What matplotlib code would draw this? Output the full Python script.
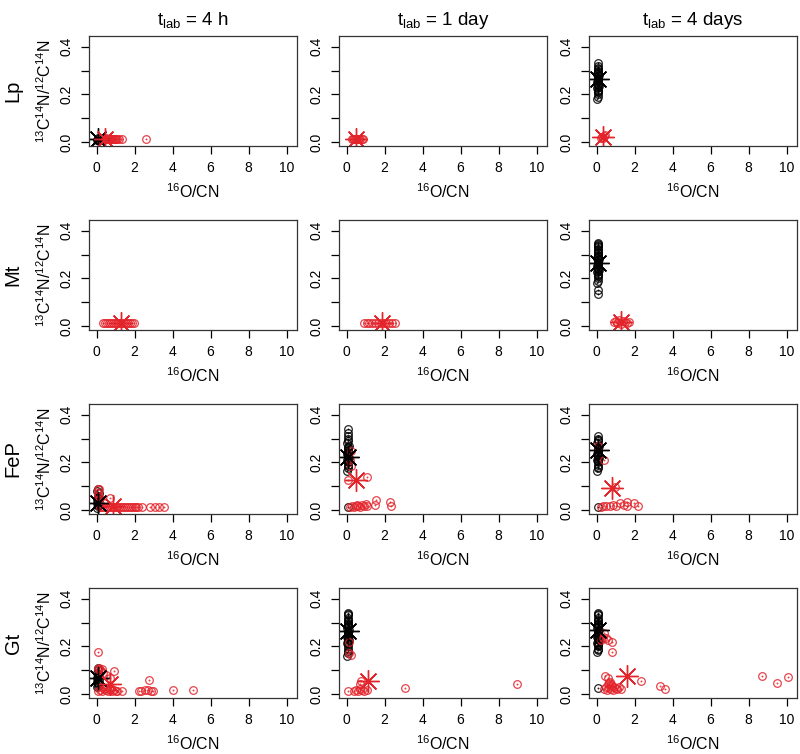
import matplotlib
matplotlib.use("Agg")
import matplotlib.pyplot as plt

plt.rcParams['font.family'] = ['Liberation Sans', 'DejaVu Sans']
plt.rcParams['mathtext.fontset'] = 'custom'
plt.rcParams['mathtext.rm'] = 'Liberation Sans'
plt.rcParams['mathtext.it'] = 'Liberation Sans:italic'

RED = '#e3242b'

time_labels = ['4 h', '1 day', '4 days']
minerals = ['Lp', 'Mt', 'FeP', 'Gt']

# shared y values for the black (13C14N-rich) clusters
cluster_y_a = [0.18, 0.19, 0.20, 0.21, 0.215, 0.22, 0.225, 0.23, 0.235, 0.24, 0.245, 0.25, 0.255,
               0.26, 0.265, 0.27, 0.275, 0.28, 0.285, 0.29, 0.295, 0.30, 0.305, 0.31, 0.32, 0.33]
cluster_x_a = [0.04, 0.08, 0.06, 0.10, 0.05, 0.09, 0.03, 0.07, 0.11, 0.05, 0.08, 0.04, 0.10,
               0.06, 0.09, 0.05, 0.07, 0.11, 0.04, 0.08, 0.06, 0.10, 0.05, 0.07, 0.06, 0.08]

# --- Lp ---
lp_4h_bx = [0.03, 0.05, 0.06, 0.08, 0.10]
lp_4h_by = [0.010, 0.012, 0.008, 0.015, 0.010]
lp_4h_bm = (0.08, 0.011)
lp_4h_rx = [0.2, 0.25, 0.3, 0.35, 0.4, 0.45, 0.5, 0.55, 0.6, 0.65, 0.7, 0.75, 0.8, 0.85, 0.9,
            0.95, 1.0, 1.1, 1.2, 1.32, 2.6]
lp_4h_ry = [0.012, 0.014, 0.012, 0.010, 0.013, 0.012, 0.015, 0.012, 0.011, 0.013, 0.012, 0.012,
            0.014, 0.012, 0.011, 0.012, 0.013, 0.012, 0.012, 0.012, 0.013]
lp_4h_rm = (0.45, 0.012)

lp_1d_bx, lp_1d_by, lp_1d_bm = [], [], None
lp_1d_rx = [0.3, 0.35, 0.4, 0.45, 0.5, 0.55, 0.6, 0.65, 0.7, 0.8, 0.88]
lp_1d_ry = [0.012, 0.013, 0.011, 0.012, 0.014, 0.012, 0.013, 0.011, 0.012, 0.012, 0.013]
lp_1d_rm = (0.5, 0.013)

lp_4d_bx = cluster_x_a
lp_4d_by = cluster_y_a
lp_4d_bm = (0.10, 0.265)
lp_4d_rx = [0.30, 0.40, 0.35, 0.45, 0.25]
lp_4d_ry = [0.020, 0.025, 0.015, 0.030, 0.018]
lp_4d_rm = (0.35, 0.022)

# --- Mt ---
mt_4h_bx, mt_4h_by, mt_4h_bm = [], [], None
mt_4h_rx = [0.35, 0.45, 0.55, 0.65, 0.75, 0.85, 0.95, 1.05, 1.15, 1.25, 1.35, 1.45, 1.55,
            1.65, 1.75, 1.85, 1.95]
mt_4h_ry = [0.012] * 17
mt_4h_rm = (1.3, 0.013)

mt_1d_bx, mt_1d_by, mt_1d_bm = [], [], None
mt_1d_rx = [0.9, 1.05, 1.2, 1.35, 1.5, 1.65, 1.8, 1.95, 2.1, 2.25, 2.4, 2.55]
mt_1d_ry = [0.012] * 12
mt_1d_rm = (1.86, 0.013)

mt_4d_bx = cluster_x_a + [0.06, 0.08, 0.05, 0.09, 0.07, 0.06, 0.07]
mt_4d_by = cluster_y_a + [0.335, 0.34, 0.345, 0.35, 0.325, 0.15, 0.136]
mt_4d_bm = (0.10, 0.264)
mt_4d_rx = [0.90, 1.00, 1.10, 1.20, 1.30, 1.40, 1.50, 1.60, 1.70]
mt_4d_ry = [0.015, 0.020, 0.012, 0.025, 0.010, 0.022, 0.015, 0.012, 0.018]
mt_4d_rm = (1.28, 0.015)

# --- FeP ---
fep_4h_bx = [0.02, 0.05, 0.08, 0.10, 0.03, 0.06, 0.12, 0.04, 0.09, 0.07, 0.05, 0.11, 0.03, 0.08]
fep_4h_by = [0.010, 0.015, 0.020, 0.025, 0.030, 0.035, 0.040, 0.045, 0.050, 0.055, 0.060, 0.070,
             0.080, 0.090]
fep_4h_bm = (0.05, 0.030)
fep_4h_rx = [0.10, 0.15, 0.05, 0.10, 0.20, 0.15, 0.70, 0.40, 0.2, 0.3, 0.4, 0.5, 0.6, 0.7, 0.8,
             0.9, 1.0, 1.1, 1.2, 1.3, 1.4, 1.5, 1.6, 1.7, 1.8, 1.9, 2.0, 2.1, 2.2, 2.4, 2.8,
             3.1, 3.3, 3.55]
fep_4h_ry = [0.090, 0.090, 0.070, 0.060, 0.050, 0.040, 0.050, 0.030] + [0.012] * 26
fep_4h_rm = (0.85, 0.015)

fep_1d_bx = [0.04, 0.08, 0.06, 0.10, 0.05, 0.09, 0.03, 0.07, 0.11, 0.05, 0.08, 0.04, 0.10,
             0.06, 0.09, 0.05, 0.07, 0.11, 0.04, 0.08, 0.06, 0.10, 0.05, 0.07, 0.10]
fep_1d_by = [0.165, 0.175, 0.185, 0.19, 0.20, 0.205, 0.21, 0.215, 0.22, 0.225, 0.23, 0.235, 0.24,
             0.245, 0.25, 0.26, 0.265, 0.27, 0.28, 0.29, 0.30, 0.31, 0.325, 0.34, 0.012]
fep_1d_bm = (0.05, 0.224)
fep_1d_rx = [0.10, 1.06, 0.25, 0.20, 0.25, 1.56, 1.50, 2.30, 2.35, 0.20, 0.30, 0.40, 0.50, 0.55,
             0.60, 0.70, 0.80, 0.90, 1.00, 1.10]
fep_1d_ry = [0.126, 0.137, 0.247, 0.21, 0.185, 0.040, 0.020, 0.035, 0.018, 0.012, 0.015, 0.012,
             0.018, 0.022, 0.015, 0.012, 0.020, 0.015, 0.025, 0.018]
fep_1d_rm = (0.49, 0.126)

fep_4d_bx = cluster_x_a[:23] + [0.05]
fep_4d_by = [0.165, 0.175, 0.18, 0.19, 0.20, 0.205, 0.21, 0.215, 0.22, 0.225, 0.23, 0.235, 0.24,
             0.245, 0.25, 0.255, 0.26, 0.27, 0.28, 0.29, 0.295, 0.30, 0.31, 0.013]
fep_4d_bm = (0.05, 0.250)
fep_4d_rx = [0.95, 0.38, 0.10, 1.25, 1.60, 1.95, 2.20, 1.45, 1.60, 1.00, 0.85, 0.70, 0.50, 0.35,
             0.25]
fep_4d_ry = [0.095, 0.210, 0.270, 0.030, 0.035, 0.030, 0.018, 0.020, 0.018, 0.018, 0.022, 0.018,
             0.015, 0.015, 0.012]
fep_4d_rm = (0.82, 0.093)

# --- Gt ---
gt_4h_bx = [0.02, 0.05, 0.08, 0.10, 0.03, 0.06, 0.12, 0.04, 0.09, 0.07, 0.05, 0.11, 0.03, 0.08,
            0.06]
gt_4h_by = [0.030, 0.035, 0.040, 0.045, 0.050, 0.055, 0.060, 0.065, 0.070, 0.075, 0.080, 0.085,
            0.090, 0.100, 0.110]
gt_4h_bm = (0.05, 0.065)
gt_4h_rx = [0.10, 0.10, 0.15, 0.20, 0.25, 0.30, 0.35, 0.90, 0.70, 0.50, 2.75, 0.10, 0.20, 0.30,
            0.40, 0.50, 0.60, 0.70, 0.80, 0.90, 1.00, 1.10, 1.35, 0.30, 0.50, 0.70, 2.25, 2.35,
            2.55, 2.70, 2.85, 2.95, 4.02, 5.05]
gt_4h_ry = [0.177, 0.105, 0.110, 0.100, 0.095, 0.105, 0.090, 0.097, 0.068, 0.080, 0.060, 0.012,
            0.015, 0.012, 0.020, 0.015, 0.012, 0.018, 0.012, 0.015, 0.012, 0.012, 0.012, 0.030,
            0.025, 0.030, 0.012, 0.012, 0.015, 0.015, 0.012, 0.012, 0.015, 0.017]
gt_4h_rm = (0.70, 0.040)

gt_1d_bx = cluster_x_a + [0.06, 0.08, 0.05, 0.09]
gt_1d_by = [0.16, 0.17, 0.18, 0.19, 0.20, 0.21, 0.215, 0.22, 0.225, 0.23, 0.235, 0.24, 0.245,
            0.25, 0.255, 0.26, 0.265, 0.27, 0.275, 0.28, 0.285, 0.29, 0.30, 0.31, 0.32, 0.33,
            0.335, 0.34, 0.295, 0.305]
gt_1d_bm = (0.05, 0.265)
gt_1d_rx = [0.15, 0.15, 0.25, 0.10, 0.75, 0.70, 0.40, 0.50, 0.60, 0.70, 0.80, 0.90, 1.05, 3.10,
            8.97]
gt_1d_ry = [0.217, 0.170, 0.163, 0.011, 0.055, 0.040, 0.012, 0.015, 0.012, 0.020, 0.015, 0.012,
            0.015, 0.027, 0.043]
gt_1d_rm = (1.15, 0.056)

gt_4d_bx = cluster_x_a + [0.06, 0.08, 0.05, 0.09, 0.05]
gt_4d_by = [0.175, 0.185, 0.19, 0.20, 0.205, 0.21, 0.215, 0.22, 0.225, 0.23, 0.235, 0.24, 0.245,
            0.25, 0.255, 0.26, 0.265, 0.27, 0.275, 0.28, 0.285, 0.29, 0.30, 0.31, 0.32, 0.33,
            0.335, 0.34, 0.295, 0.305, 0.025]
gt_4d_bm = (0.05, 0.270)
gt_4d_rx = [0.25, 0.35, 0.40, 0.50, 0.60, 0.80, 0.80, 0.45, 0.60, 0.40, 0.50, 0.55, 0.60, 0.65,
            0.70, 0.75, 0.80, 0.85, 0.90, 1.00, 1.10, 1.20, 0.65, 0.75, 1.30, 2.35, 3.35, 3.60,
            8.70, 9.50, 10.10]
gt_4d_ry = [0.225, 0.235, 0.255, 0.235, 0.225, 0.220, 0.178, 0.075, 0.068, 0.020, 0.030, 0.015,
            0.040, 0.025, 0.050, 0.020, 0.035, 0.015, 0.030, 0.025, 0.020, 0.030, 0.045, 0.040,
            0.022, 0.053, 0.035, 0.022, 0.075, 0.045, 0.070]
gt_4d_rm = (1.60, 0.077)

panels = [
    [(lp_4h_bx, lp_4h_by, lp_4h_bm, lp_4h_rx, lp_4h_ry, lp_4h_rm),
     (lp_1d_bx, lp_1d_by, lp_1d_bm, lp_1d_rx, lp_1d_ry, lp_1d_rm),
     (lp_4d_bx, lp_4d_by, lp_4d_bm, lp_4d_rx, lp_4d_ry, lp_4d_rm)],
    [(mt_4h_bx, mt_4h_by, mt_4h_bm, mt_4h_rx, mt_4h_ry, mt_4h_rm),
     (mt_1d_bx, mt_1d_by, mt_1d_bm, mt_1d_rx, mt_1d_ry, mt_1d_rm),
     (mt_4d_bx, mt_4d_by, mt_4d_bm, mt_4d_rx, mt_4d_ry, mt_4d_rm)],
    [(fep_4h_bx, fep_4h_by, fep_4h_bm, fep_4h_rx, fep_4h_ry, fep_4h_rm),
     (fep_1d_bx, fep_1d_by, fep_1d_bm, fep_1d_rx, fep_1d_ry, fep_1d_rm),
     (fep_4d_bx, fep_4d_by, fep_4d_bm, fep_4d_rx, fep_4d_ry, fep_4d_rm)],
    [(gt_4h_bx, gt_4h_by, gt_4h_bm, gt_4h_rx, gt_4h_ry, gt_4h_rm),
     (gt_1d_bx, gt_1d_by, gt_1d_bm, gt_1d_rx, gt_1d_ry, gt_1d_rm),
     (gt_4d_bx, gt_4d_by, gt_4d_bm, gt_4d_rx, gt_4d_ry, gt_4d_rm)],
]

W, H = 800, 754
fig = plt.figure(figsize=(W / 100, H / 100), dpi=100)
col_left = [89, 339, 589]
row_top = [36, 220, 404, 588]
aw, ah = 208, 110
star = (8, 2, 0)


def draw_points(ax, xs, ys, color):
    if not xs:
        return
    ax.plot(xs, ys, 'o', ms=5.5, mfc='none', mec=color, mew=0.9, alpha=0.85)
    ax.plot(xs, ys, 'o', ms=1.4, mfc=color, mec=color, mew=0, alpha=0.85)


for r, mineral in enumerate(minerals):
    for c in range(3):
        bx, by, bm, rx, ry, rm = panels[r][c]
        ax = fig.add_axes([col_left[c] / W, 1 - (row_top[r] + ah) / H, aw / W, ah / H])
        draw_points(ax, bx, by, 'black')
        draw_points(ax, rx, ry, RED)
        if bm is not None:
            ax.plot(*bm, marker=star, ms=16, color='black', mew=1.0, ls='none')
        if rm is not None:
            ax.plot(*rm, marker=star, ms=16, color=RED, mew=1.0, ls='none')
        ax.set_xlim(-0.4, 10.55)
        ax.set_ylim(-0.017, 0.445)
        ax.set_xticks([0, 2, 4, 6, 8, 10])
        ax.set_yticks([0, 0.1, 0.2, 0.3, 0.4])
        ax.set_yticklabels(['0.0', '', '0.2', '', '0.4'], rotation=90, va='center')
        ax.tick_params(direction='out', length=5.5, width=0.9, labelsize=10, pad=5.5)
        for s in ax.spines.values():
            s.set_linewidth(0.9)
            s.set_color('#333333')
        ax.set_xlabel('$^{16}$O/CN', fontsize=11.5, labelpad=5)
        if c == 0:
            ax.set_ylabel('$^{13}$C$^{14}$N/$^{12}$C$^{14}$N', fontsize=11.5)
            ax.yaxis.set_label_coords(-0.17, 0.5)
            fig.text(13 / W, 1 - (row_top[r] + ah / 2) / H, mineral, rotation=90,
                     ha='center', va='center', fontsize=14.5)
        if r == 0:
            ax.set_title(r'$\mathregular{t_{lab}}$ = ' + time_labels[c], fontsize=13.5, pad=8)

fig.savefig('out.png', dpi=100)
